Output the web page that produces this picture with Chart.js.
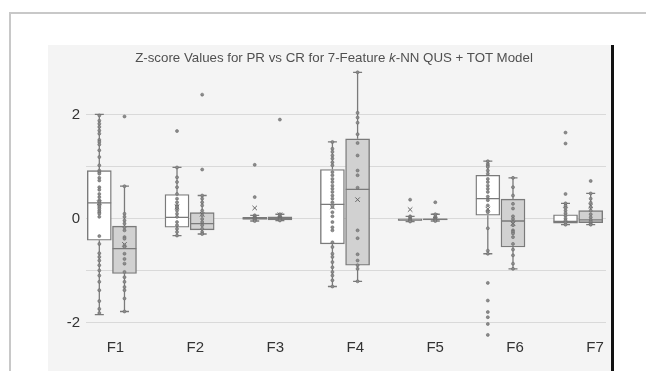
<!DOCTYPE html>
<html><head><meta charset="utf-8">
<script src="https://cdn.jsdelivr.net/npm/chart.js@4.4.1/dist/chart.umd.min.js"></script>
<style>
html,body{margin:0;padding:0;background:#fff;width:646px;height:371px;overflow:hidden;font-family:"Liberation Sans",Arial,sans-serif;}
#frame{position:absolute;left:9px;top:12px;width:640px;height:365px;border-top:2px solid #c8c8c8;border-left:2px solid #c8c8c8;}
#panel{position:absolute;left:48px;top:45px;width:563px;height:326px;background:#f4f4f4;border-right:3px solid #111;}
#title{position:absolute;left:48px;top:50px;width:572px;text-align:center;font-size:13.3px;line-height:16px;color:#505050;white-space:nowrap;}
canvas{position:absolute;left:0;top:0;}
</style></head>
<body>
<div id="frame"></div>
<div id="panel"><canvas id="c" width="563" height="326"></canvas></div>
<div id="title">Z-score Values for PR vs CR for 7-Feature <i>k</i>-NN QUS + TOT Model</div>
<script>
const categories = ['F1','F2','F3','F4','F5','F6','F7'];
const yTickValues = [-2,-1,0,1,2];
const yTickLabels = ['-2','','0','','2'];

const prLow    = [-1.85,-0.33,-0.05,-1.31,-0.06,-0.68,-0.12];
const prQ1     = [-0.42,-0.17,-0.02,-0.49,-0.04, 0.06,-0.09];
const prMedian = [ 0.30, 0.02, 0.00, 0.27,-0.03, 0.38,-0.06];
const prQ3     = [ 0.92, 0.46, 0.02, 0.94,-0.01, 0.83, 0.07];
const prHigh   = [ 2.00, 0.98, 0.06, 1.47, 0.04, 1.10, 0.29];
const prMean   = [ 0.30, 0.22, 0.20, 0.22, 0.17, 0.18, 0.25];

const crLow    = [-1.79,-0.30,-0.04,-1.21,-0.05,-0.97,-0.12];
const crQ1     = [-1.06,-0.22,-0.03,-0.90,-0.03,-0.55,-0.08];
const crMedian = [-0.58,-0.10, 0.00, 0.56,-0.02,-0.05,-0.03];
const crQ3     = [-0.15, 0.11, 0.03, 1.53, 0.00, 0.37, 0.15];
const crHigh   = [ 0.62, 0.44, 0.08, 2.81, 0.08, 0.78, 0.48];
const crMean   = [-0.50, 0.08, 0.07, 0.36, 0.05,-0.10, 0.24];

const prPoints = [
 [1.98,1.88,1.82,1.76,1.69,1.63,1.51,1.47,1.42,1.31,1.18,1.02,0.92,0.89,0.86,0.78,0.73,0.60,0.55,0.47,0.41,0.35,0.32,0.28,0.25,0.22,0.19,0.15,0.12,0.09,0.03,-0.34,-0.49,-0.67,-0.74,-0.81,-0.90,-1.00,-1.10,-1.22,-1.38,-1.59,-1.74,-1.82],
 [1.68,0.98,0.79,0.70,0.60,0.47,0.38,0.31,0.25,0.22,0.19,0.15,0.09,0.03,-0.07,-0.13,-0.20,-0.26,-0.33],
 [1.03,0.41,0.06,0.04,0.02,0.01,0.00,-0.01,-0.02,-0.03,-0.05],
 [1.47,1.34,1.28,1.21,1.15,1.08,1.02,0.89,0.83,0.76,0.70,0.63,0.57,0.51,0.44,0.38,0.31,0.22,0.12,0.04,-0.07,-0.17,-0.23,-0.46,-0.55,-0.68,-0.74,-0.84,-0.94,-1.03,-1.10,-1.19,-1.31],
 [0.36,0.04,0.02,-0.01,-0.02,-0.03,-0.04,-0.06],
 [1.10,1.05,1.02,0.99,0.92,0.86,0.76,0.70,0.63,0.57,0.51,0.42,0.35,0.25,0.15,0.12,-0.19,-0.62,-0.68,-1.24,-1.58,-1.80,-1.90,-2.03,-2.24],
 [1.65,1.44,0.47,0.29,0.24,0.20,0.15,0.10,0.05,0.00,-0.04,-0.08,-0.12]
];
const crPoints = [
 [1.96,0.62,0.09,0.03,-0.04,-0.10,-0.17,-0.23,-0.36,-0.39,-0.52,-0.55,-0.68,-0.78,-0.87,-1.03,-1.13,-1.22,-1.32,-1.38,-1.54,-1.79],
 [2.38,0.94,0.44,0.38,0.31,0.25,0.15,0.06,-0.01,-0.07,-0.13,-0.20,-0.26,-0.30],
 [1.90,0.08,0.05,0.03,0.01,0.00,-0.01,-0.02,-0.04],
 [2.81,2.03,1.94,1.84,1.62,1.45,1.21,0.92,0.83,0.59,-0.23,-0.38,-0.69,-0.81,-0.90,-0.97,-1.21],
 [0.31,0.08,0.04,0.01,-0.01,-0.02,-0.03,-0.05],
 [0.78,0.60,0.44,0.28,0.19,0.04,-0.01,-0.07,-0.13,-0.23,-0.26,-0.29,-0.36,-0.49,-0.60,-0.71,-0.87,-0.97],
 [0.72,0.48,0.38,0.30,0.22,0.15,0.08,0.02,-0.03,-0.06,-0.10,-0.12]
];

// layout helpers (offsets in category units)
const OFF = 0.162, MED_HALF = 0.153, CAP_HALF = 0.058;
const LINE = '#7a7a7a';

function xPos(i, side){ return i + 1 + side * OFF; }

function boxData(q1, q3, side){
  return categories.map((c,i)=>({x:xPos(i,side), y:[q1[i], q3[i]]}));
}
function whiskerData(lo, q1, q3, hi, side){
  const out = [];
  categories.forEach((c,i)=>{
    const x = xPos(i,side);
    out.push({x, y:q3[i]}, {x, y:hi[i]}, {x, y:null});
    out.push({x:x-CAP_HALF, y:hi[i]}, {x:x+CAP_HALF, y:hi[i]}, {x, y:null});
    out.push({x, y:q1[i]}, {x, y:lo[i]}, {x, y:null});
    out.push({x:x-CAP_HALF, y:lo[i]}, {x:x+CAP_HALF, y:lo[i]}, {x, y:null});
  });
  return out;
}
function medianData(med, side){
  const out = [];
  categories.forEach((c,i)=>{
    const x = xPos(i,side);
    out.push({x:x-MED_HALF, y:med[i]}, {x:x+MED_HALF, y:med[i]}, {x, y:null});
  });
  return out;
}
function pointData(pts, side){
  const out = [];
  pts.forEach((arr,i)=>arr.forEach(v=>out.push({x:xPos(i,side), y:v})));
  return out;
}
function meanData(m, side){
  return categories.map((c,i)=>({x:xPos(i,side), y:m[i]}));
}

const ptStyle = {type:'scatter', pointRadius:1.5, pointBackgroundColor:'#8c8c8c', pointBorderColor:'#6a6a6a', pointBorderWidth:0.6, showLine:false, order:0, xAxisID:'x', yAxisID:'y'};
const meanStyle = {type:'scatter', pointStyle:'crossRot', pointRadius:3.2, pointBorderColor:'#666', pointBackgroundColor:'#666', pointBorderWidth:1, showLine:false, order:0, xAxisID:'x', yAxisID:'y'};
const lineStyle = {type:'scatter', showLine:true, spanGaps:false, pointRadius:0, borderColor:LINE, borderWidth:1.3, xAxisID:'x', yAxisID:'y'};

new Chart(document.getElementById('c'), {
  type:'bar',
  data:{
    datasets:[
      Object.assign({}, lineStyle, {label:'PR whiskers', data:whiskerData(prLow,prQ1,prQ3,prHigh,-1), order:3}),
      Object.assign({}, lineStyle, {label:'CR whiskers', data:whiskerData(crLow,crQ1,crQ3,crHigh,1), order:3}),
      {type:'bar', label:'PR', data:boxData(prQ1,prQ3,-1), backgroundColor:'#ffffff', borderColor:LINE, borderWidth:1.4, borderSkipped:false, barThickness:24, grouped:false, order:2, xAxisID:'x', yAxisID:'y'},
      {type:'bar', label:'CR', data:boxData(crQ1,crQ3,1), backgroundColor:'#d1d1d1', borderColor:LINE, borderWidth:1.4, borderSkipped:false, barThickness:24, grouped:false, order:2, xAxisID:'x', yAxisID:'y'},
      Object.assign({}, lineStyle, {label:'PR median', data:medianData(prMedian,-1), order:1}),
      Object.assign({}, lineStyle, {label:'CR median', data:medianData(crMedian,1), order:1}),
      Object.assign({}, ptStyle, {label:'PR points', data:pointData(prPoints,-1)}),
      Object.assign({}, ptStyle, {label:'CR points', data:pointData(crPoints,1)}),
      Object.assign({}, meanStyle, {label:'PR mean', data:meanData(prMean,-1)}),
      Object.assign({}, meanStyle, {label:'CR mean', data:meanData(crMean,1)})
    ]
  },
  options:{
    responsive:false,
    animation:false,
    layout:{padding:{top:22.6, right:3, bottom:0, left:0}},
    plugins:{legend:{display:false}, tooltip:{enabled:false}, title:{display:false}},
    scales:{
      x:{type:'linear', display:false, offset:false, min:0.6667, max:7.359},
      xl:{type:'linear', axis:'x', position:'bottom', offset:false, min:0.632, max:7.137,
        afterBuildTicks:(s)=>{ s.ticks = categories.map((c,i)=>({value:i+1})); },
        afterFit:(s)=>{ s.height = 30.4; },
        grid:{display:false, drawTicks:false}, border:{display:false},
        ticks:{padding:-2, color:'#333', font:{family:'"Liberation Sans", Arial, sans-serif', size:15},
          callback:(v)=>categories[Math.round(v)-1] || ''}
      },
      y:{type:'linear', min:-2.35, max:2.9,
        afterBuildTicks:(s)=>{ s.ticks = yTickValues.map(v=>({value:v})); },
        afterFit:(s)=>{ s.width = 38; },
        grid:{color:'#d9d9d9', lineWidth:1, drawTicks:false}, border:{display:false},
        ticks:{padding:6, color:'#333', font:{family:'"Liberation Sans", Arial, sans-serif', size:15},
          callback:(v)=>{ const k = yTickValues.indexOf(v); return k>=0 ? yTickLabels[k] : ''; }}
      }
    }
  }
});
</script>
</body></html>
